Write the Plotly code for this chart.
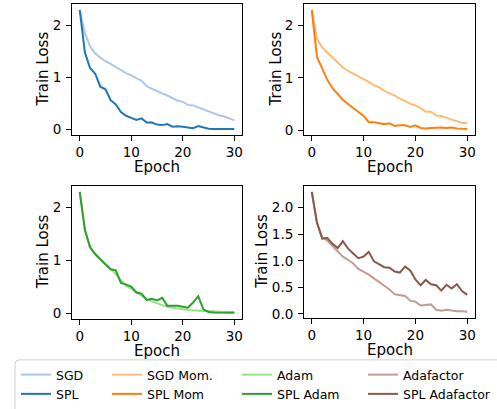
import plotly.graph_objects as go

epochs = list(range(31))

sgd = [2.30, 1.85, 1.60, 1.46, 1.38, 1.31, 1.26, 1.20, 1.14, 1.08, 1.04, 0.98, 0.94, 0.83, 0.78,
       0.73, 0.69, 0.65, 0.60, 0.55, 0.53, 0.47, 0.46, 0.42, 0.38, 0.34, 0.30, 0.27, 0.25, 0.21, 0.17]
spl = [2.30, 1.48, 1.18, 1.07, 0.82, 0.77, 0.56, 0.48, 0.33, 0.26, 0.22, 0.18, 0.21, 0.13, 0.13,
       0.09, 0.08, 0.10, 0.05, 0.06, 0.05, 0.03, 0.02, 0.06, 0.03, 0.01, 0.005, 0.005, 0.005, 0.005, 0.005]

sgd_mom = [2.30, 1.75, 1.58, 1.48, 1.38, 1.28, 1.20, 1.13, 1.08, 1.02, 0.97, 0.92, 0.86, 0.82, 0.75,
           0.71, 0.66, 0.60, 0.56, 0.50, 0.47, 0.42, 0.35, 0.35, 0.28, 0.27, 0.23, 0.20, 0.17, 0.14, 0.13]
spl_mom = [2.30, 1.40, 1.18, 0.96, 0.80, 0.68, 0.58, 0.50, 0.42, 0.35, 0.27, 0.15, 0.15, 0.13, 0.11,
           0.13, 0.08, 0.09, 0.09, 0.06, 0.09, 0.04, 0.03, 0.04, 0.05, 0.05, 0.04, 0.05, 0.03, 0.02, 0.02]

adam = [2.30, 1.58, 1.25, 1.12, 1.02, 0.93, 0.83, 0.74, 0.62, 0.52, 0.46, 0.40, 0.33, 0.26, 0.22,
        0.18, 0.15, 0.12, 0.10, 0.09, 0.07, 0.06, 0.05, 0.05, 0.04, 0.04, 0.03, 0.03, 0.02, 0.02, 0.02]
spl_adam = [2.30, 1.58, 1.25, 1.12, 1.02, 0.93, 0.83, 0.81, 0.57, 0.54, 0.50, 0.39, 0.37, 0.25, 0.27,
            0.24, 0.29, 0.14, 0.14, 0.14, 0.12, 0.10, 0.20, 0.32, 0.07, 0.02, 0.01, 0.01, 0.005, 0.005, 0.005]

adafactor = [2.30, 1.72, 1.45, 1.38, 1.28, 1.18, 1.08, 1.02, 0.95, 0.85, 0.80, 0.74, 0.67, 0.60, 0.53,
             0.46, 0.37, 0.35, 0.34, 0.25, 0.23, 0.16, 0.17, 0.18, 0.08, 0.06, 0.08, 0.06, 0.05, 0.05, 0.04]
spl_adafactor = [2.30, 1.72, 1.42, 1.43, 1.32, 1.24, 1.37, 1.23, 1.14, 1.05, 1.08, 1.17, 0.99, 0.93, 0.88,
                 0.87, 0.80, 0.78, 0.89, 0.82, 0.65, 0.54, 0.64, 0.56, 0.54, 0.44, 0.55, 0.48, 0.56, 0.43, 0.36]

names = [("SGD", "SPL"), ("SGD Mom.", "SPL Mom"), ("Adam", "SPL Adam"), ("Adafactor", "SPL Adafactor")]
series = [(sgd, spl), (sgd_mom, spl_mom), (adam, spl_adam), (adafactor, spl_adafactor)]
colors = [("#aec7e8", "#1f77b4"), ("#ffbb78", "#ff7f0e"), ("#98df8a", "#2ca02c"), ("#c49c94", "#8c564b")]

W, H = 497, 409
FONT = "DejaVu Sans"

# panel boxes in pixels: (left, right, top, bottom)
boxes = [(72, 242, 4, 138), (304, 475, 4, 138), (72, 242, 190, 326), (304, 475, 190, 325)]
ylab_x = [43, 276, 43, 262]
xlab_y = [171, 171, 359, 358]
legend_x = [16, 107, 237, 363]

fig = go.Figure()
layout = dict(
    width=W, height=H, margin=dict(l=0, r=0, t=0, b=0),
    paper_bgcolor="white", plot_bgcolor="white",
    font=dict(family=FONT, size=13.5, color="black"),
    annotations=[], shapes=[],
)

for i in range(4):
    sfx = "" if i == 0 else str(i + 1)
    l, r, t, b = boxes[i]
    light, dark = series[i]
    ln, dn = names[i]
    lc, dc = colors[i]
    leg = "legend" + sfx
    fig.add_trace(go.Scatter(x=epochs, y=light, mode="lines", name=ln, legend=leg,
                             line=dict(color=lc, width=2), xaxis="x" + sfx, yaxis="y" + sfx))
    fig.add_trace(go.Scatter(x=epochs, y=dark, mode="lines", name=dn, legend=leg,
                             line=dict(color=dc, width=2), xaxis="x" + sfx, yaxis="y" + sfx))
    allv = light + dark
    lo, hi = min(allv), max(allv)
    pad = 0.05 * (hi - lo)
    common = dict(showgrid=False, zeroline=False, showline=True, linecolor="black", linewidth=1,
                  mirror=True, ticks="outside", ticklen=5, tickwidth=1, tickcolor="black",
                  tickfont=dict(family=FONT, size=13.5, color="black"), automargin=False)
    layout["xaxis" + sfx] = dict(domain=[l / W, r / W], anchor="y" + sfx,
                                 range=[-1.5, 31.5], dtick=10, tick0=0, **common)
    yax = dict(domain=[1 - b / H, 1 - t / H], anchor="x" + sfx,
               range=[lo - pad, hi + pad], tick0=0, ticklabelstandoff=2, **common)
    if i == 3:
        yax.update(dtick=0.5, tickformat=".1f")
    else:
        yax.update(dtick=1)
    layout["yaxis" + sfx] = yax
    layout["annotations"].append(dict(text="Train Loss", xref="paper", yref="paper",
                                      x=ylab_x[i] / W, y=1 - ((t + b) / 2) / H, textangle=-90,
                                      showarrow=False, xanchor="center", yanchor="middle",
                                      font=dict(family=FONT, size=15, color="black")))
    layout["annotations"].append(dict(text="Epoch", xref="paper", yref="paper",
                                      x=((l + r) / 2) / W, y=1 - xlab_y[i] / H,
                                      showarrow=False, xanchor="center", yanchor="middle",
                                      font=dict(family=FONT, size=15, color="black")))
    layout[leg] = dict(x=legend_x[i] / W, y=1 - 368.5 / H, xanchor="left", yanchor="top",
                       orientation="v", bgcolor="rgba(0,0,0,0)", borderwidth=0,
                       font=dict(family=FONT, size=12.5, color="black"))

# legend frame (rounded top-left corner, extends past the page edges)
x0, y0 = 15 / W, 1 - 368 / H
rx, ry = 4 / W, 4 / H
path = (f"M {x0},{-0.1} L {x0},{y0 - ry} Q {x0},{y0} {x0 + rx},{y0} "
        f"L {1.1},{y0} L {1.1},{-0.1} Z")
layout["shapes"].append(dict(type="path", xref="paper", yref="paper", path=path,
                             line=dict(color="#d0d0d0", width=1), fillcolor="rgba(255,255,255,0.8)",
                             layer="above"))

fig.update_layout(**layout)
fig.write_html("out.html")
